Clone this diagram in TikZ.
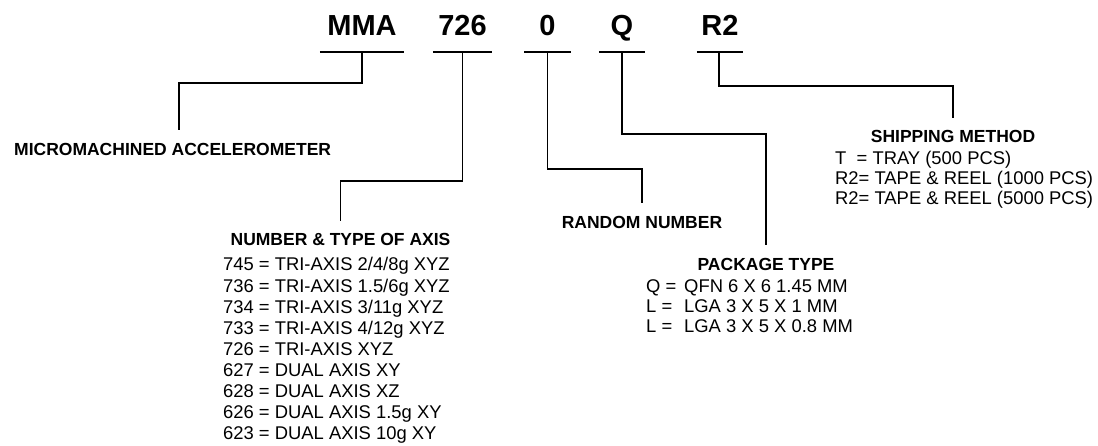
\documentclass[tikz,border=0pt]{standalone}
\usepackage{fontspec}
\setmainfont{Liberation Sans}
\tikzset{
  partbox/.style={font=\fontsize{29}{34}\selectfont\bfseries, inner sep=0pt, text depth=16pt, minimum width=#1, anchor=south},
  fieldhead/.style={font=\fontsize{17.5}{21}\selectfont\bfseries, inner sep=0pt, outer ysep=13pt, anchor=base},
  fielditem/.style={font=\fontsize{18.4}{21}\selectfont, inner sep=0pt, anchor=base west},
  uline/.style={line width=1.8pt},
  link/.style={line width=1.8pt, line join=miter}
}

\begin{document}
\begin{tikzpicture}[x=1pt, y=-1pt]
  \useasboundingbox (0,0) rectangle (1098,446);

  % part number fields
  \node[partbox=84pt] (mma) at (362,52) {MMA};
  \node[partbox=59pt] (n726) at (462.5,52) {726};
  \node[partbox=46pt] (n0) at (547.5,52) {0};
  \node[partbox=46pt] (nq) at (622,52) {Q};
  \node[partbox=46pt] (nr2) at (720,52) {R2};
  \foreach \f in {mma,n726,n0,nq,nr2}
    \draw[uline] (\f.south west) -- (\f.south east);

  % field descriptions
  \node[fieldhead, anchor=base west] (micro) at (14,155.5) {MICROMACHINED ACCELEROMETER};
  \node[fieldhead] (axhead) at (340.5,246) {NUMBER \& TYPE OF AXIS};
  \node[fieldhead] (rndhead) at (642,228.5) {RANDOM NUMBER};
  \node[fieldhead] (pkghead) at (766,270.5) {PACKAGE TYPE};
  \node[fieldhead] (shiphead) at (953,143) {SHIPPING METHOD};

  \foreach \t [count=\i from 0] in {745 = TRI-AXIS 2/4/8g XYZ, 736 = TRI-AXIS 1.5/6g XYZ,
      734 = TRI-AXIS 3/11g XYZ, 733 = TRI-AXIS 4/12g XYZ, 726 = TRI-AXIS XYZ,
      627 = DUAL AXIS XY, 628 = DUAL AXIS XZ, 626 = DUAL AXIS 1.5g XY, 623 = DUAL AXIS 10g XY}
    \node[fielditem] (ax\i) at (223,{271+21.1*\i}) {\t};

  \foreach \a/\b [count=\i from 0] in {Q =/QFN 6 X 6 1.45 MM, L =/LGA 3 X 5 X 1 MM, L =/LGA 3 X 5 X 0.8 MM}
    \node[fielditem] (pkg\i) at (646,{292.5+20*\i}) {\makebox[38pt][l]{\a}\b};

  \foreach \t [count=\i from 0] in {T\ \ = TRAY (500 PCS), R2= TAPE \& REEL (1000 PCS), R2= TAPE \& REEL (5000 PCS)}
    \node[fielditem] (ship\i) at (835,{164.5+20*\i}) {\t};

  % leaders
  \draw[link] (mma.south) -- ++(0,31) -| ([xshift=6.5pt]micro.north);
  \draw[link] (n726.south) -- ++(0,129) -| (axhead.north);
  \draw[link] (n0.south) -- ++(0,117) -| (rndhead.north);
  \draw[link] (nq.south) -- ++(0,82) -| (pkghead.north);
  \draw[link] ([xshift=-1pt]nr2.south) -- ++(0,34) -| (shiphead.north);
\end{tikzpicture}
\end{document}
